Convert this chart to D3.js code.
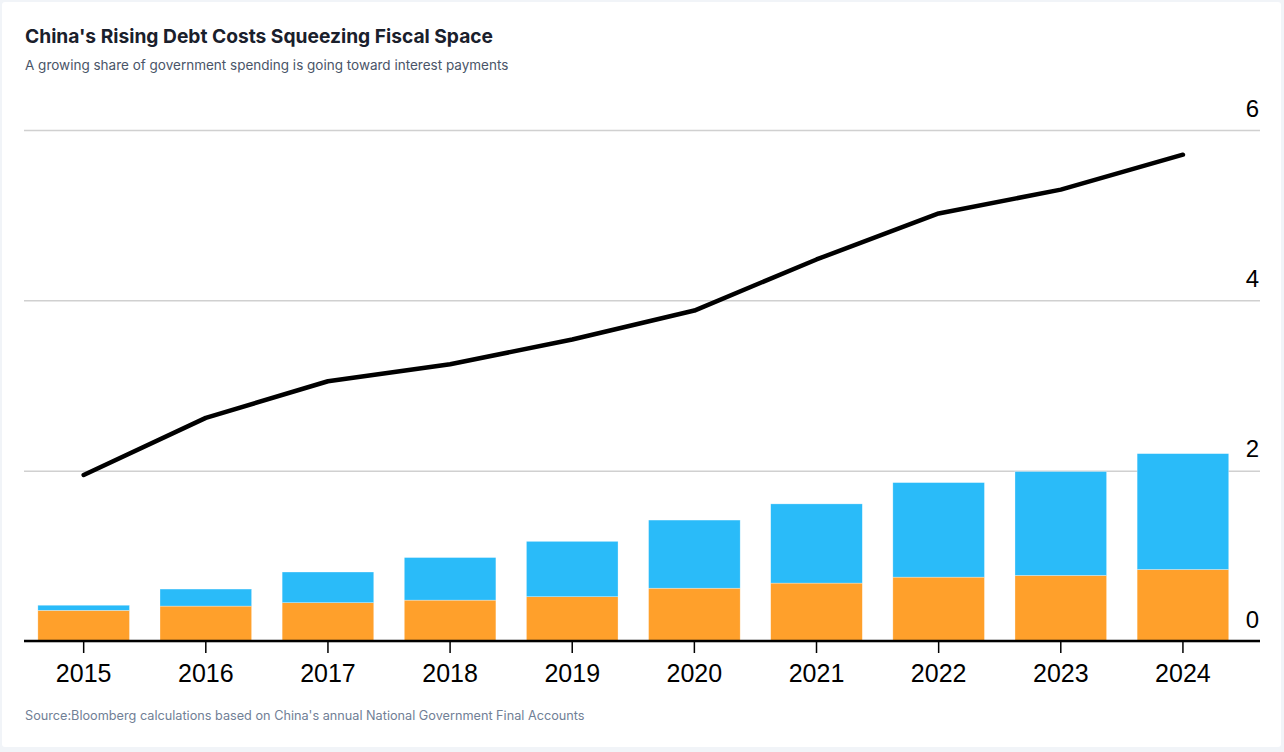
<!DOCTYPE html>
<html>
<head>
<meta charset="utf-8">
<script src="https://cdn.jsdelivr.net/npm/d3@7"></script>
<style>
  html, body { margin: 0; padding: 0; background: #f1f4f8; }
  #chart { width: 1284px; height: 752px; }
</style>
</head>
<body>
<div id="chart"></div>
<script>
// Chart data
const years = ['2015', '2016', '2017', '2018', '2019', '2020', '2021', '2022', '2023', '2024'];
const orangeValues = [0.36, 0.41, 0.45, 0.48, 0.52, 0.62, 0.68, 0.75, 0.77, 0.84];
const blueValues = [0.06, 0.20, 0.36, 0.50, 0.65, 0.80, 0.93, 1.11, 1.22, 1.36];
const lineValues = [1.95, 2.62, 3.05, 3.25, 3.54, 3.88, 4.48, 5.02, 5.30, 5.71];
const yTicks = [0, 2, 4, 6];

const svgWidth = 1284;
const svgHeight = 752;
const gridLeft = 24;
const gridRight = 1260;

const svg = d3
  .select('#chart')
  .append('svg')
  .attr('width', svgWidth)
  .attr('height', svgHeight);

// White card
svg
  .append('rect')
  .attr('x', 2)
  .attr('y', 2)
  .attr('width', 1279)
  .attr('height', 745)
  .attr('rx', 3)
  .style('fill', '#ffffff');

// Title and subtitle
svg
  .append('text')
  .attr('x', 25)
  .attr('y', 43)
  .style('font-family', 'Inter, "Noto Sans", sans-serif')
  .style('font-size', '19.2px')
  .style('font-weight', 'bold')
  .style('fill', '#1a202c')
  .text("China's Rising Debt Costs Squeezing Fiscal Space");

svg
  .append('text')
  .attr('x', 25)
  .attr('y', 70)
  .style('font-family', 'Inter, "Noto Sans", sans-serif')
  .style('font-size', '13.5px')
  .style('fill', '#4a5568')
  .text('A growing share of government spending is going toward interest payments');

// Scales
const x = d3
  .scaleBand()
  .domain(years)
  .range([22.6, 1244])
  .paddingInner(0.25)
  .paddingOuter(0.125);

const y = d3.scaleLinear().domain([0, 6]).range([641, 130]);

// Gridlines and right-side labels
const yAxis = d3
  .axisRight(y)
  .tickValues(yTicks)
  .tickSize(gridRight - gridLeft)
  .tickFormat(d3.format('d'));

const yG = svg
  .append('g')
  .attr('transform', 'translate(' + gridLeft + ',0)')
  .call(yAxis);

yG.select('.domain').remove();
yG.selectAll('.tick line')
  .style('stroke', '#d0d0d0')
  .style('stroke-width', 1.5);
yG.selectAll('.tick text')
  .attr('x', gridRight - gridLeft - 1)
  .attr('dy', -14)
  .attr('text-anchor', 'end')
  .style('font-family', '"Liberation Sans", Arial, sans-serif')
  .style('font-size', '24px')
  .style('fill', '#000');

// Stack the two bar series
const stackData = years.map((yr, i) => ({
  year: yr,
  orange: orangeValues[i],
  blue: blueValues[i],
}));
const stacked = d3.stack().keys(['orange', 'blue'])(stackData);
const colors = { orange: '#ffa02b', blue: '#2abbf9' };

svg
  .selectAll('.series')
  .data(stacked)
  .enter()
  .append('g')
  .attr('class', 'series')
  .style('fill', (d) => colors[d.key])
  .selectAll('rect')
  .data((d) => d)
  .enter()
  .append('rect')
  .attr('x', (d) => x(d.data.year))
  .attr('width', x.bandwidth())
  .attr('y', (d) => y(d[1]))
  .attr('height', (d) => y(d[0]) - y(d[1]))
  .style('stroke', 'rgba(255,255,255,0.5)')
  .style('stroke-width', 0.6);

// Black line
const line = d3
  .line()
  .x((d, i) => x(years[i]) + x.bandwidth() / 2)
  .y((d) => y(d));

svg
  .append('path')
  .datum(lineValues)
  .attr('d', line)
  .style('fill', 'none')
  .style('stroke', '#000')
  .style('stroke-width', 4.5)
  .style('stroke-linecap', 'round')
  .style('stroke-linejoin', 'round');

// X axis
const xAxis = d3.axisBottom(x).tickSize(12).tickSizeOuter(0);
const xG = svg
  .append('g')
  .attr('transform', 'translate(0,' + y(0) + ')')
  .call(xAxis);

xG.select('.domain').remove();
xG.selectAll('.tick line').style('stroke', '#000').style('stroke-width', 1.5);
xG.selectAll('.tick text')
  .attr('y', 0)
  .attr('dy', 0)
  .attr('transform', 'translate(0,41)')
  .style('font-family', '"Liberation Sans", Arial, sans-serif')
  .style('font-size', '25px')
  .style('fill', '#000');

// Baseline
svg
  .append('line')
  .attr('x1', gridLeft)
  .attr('x2', gridRight)
  .attr('y1', y(0))
  .attr('y2', y(0))
  .style('stroke', '#000')
  .style('stroke-width', 2.5);

// Source note
svg
  .append('text')
  .attr('x', 25)
  .attr('y', 720)
  .style('font-family', 'Inter, "Noto Sans", sans-serif')
  .style('font-size', '12.7px')
  .style('fill', '#718096')
  .text("Source:Bloomberg calculations based on China's annual National Government Final Accounts");
</script>
</body>
</html>
